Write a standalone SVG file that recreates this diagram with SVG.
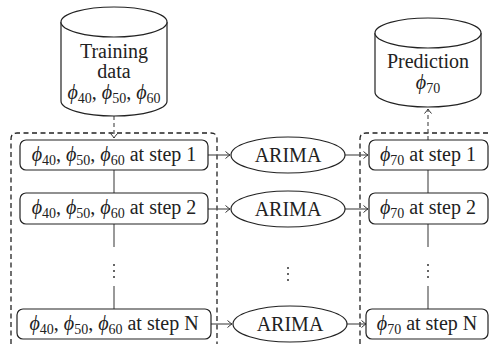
<svg xmlns="http://www.w3.org/2000/svg" width="489" height="344" viewBox="0 0 489 344" font-family="'Liberation Serif', serif">
<style>
text{font-family:'Liberation Serif','Times New Roman',serif;font-size:20px;fill:#222;text-anchor:middle}
.v{font-style:italic}
.s{font-size:14px}
.shape{fill:#fff;stroke:#222;stroke-width:1.2}
.line{fill:none;stroke:#555;stroke-width:1.2}
.dash{fill:none;stroke:#222;stroke-width:1.3;stroke-dasharray:5,3.5}
.ddash{fill:none;stroke:#555;stroke-width:1.2;stroke-dasharray:4,3}
.dots{fill:#333}
</style>
<defs>
<marker id="arr" markerWidth="10" markerHeight="10" refX="0" refY="0" viewBox="-6 -5 8 10" orient="auto" markerUnits="userSpaceOnUse">
<path d="M-4.5,-3.5 Q-1.5,-0.8 0,0 Q-1.5,0.8 -4.5,3.5" fill="none" stroke="#333" stroke-width="1"/>
</marker>
</defs>
<g id="groups">
<path class="dash" d="M11,344 V139 Q11,133 17,133 H211 Q217,133 217,139 V344"/>
<path class="dash" d="M360,344 V139 Q360,133 366,133 H489"/>
</g>
<g id="connectors">
<line class="ddash" x1="114" y1="116" x2="114" y2="138" marker-end="url(#arr)"/>
<line class="ddash" x1="428" y1="140" x2="428" y2="109" marker-end="url(#arr)"/>
<line class="line" x1="114" y1="170" x2="114" y2="193"/>
<line class="line" x1="114" y1="224" x2="114" y2="247"/>
<line class="line" x1="114" y1="286" x2="114" y2="309"/>
<line class="line" x1="428" y1="170" x2="428" y2="193"/>
<line class="line" x1="428" y1="224" x2="428" y2="247"/>
<line class="line" x1="428" y1="286" x2="428" y2="309"/>
<line class="line" x1="208" y1="155" x2="230" y2="155" marker-end="url(#arr)"/>
<line class="line" x1="345" y1="155" x2="368" y2="155" marker-end="url(#arr)"/>
<line class="line" x1="208" y1="209" x2="230" y2="209" marker-end="url(#arr)"/>
<line class="line" x1="345" y1="209" x2="368" y2="209" marker-end="url(#arr)"/>
<line class="line" x1="211" y1="324" x2="232" y2="324" marker-end="url(#arr)"/>
<line class="line" x1="347" y1="324" x2="366" y2="324" marker-end="url(#arr)"/>
</g>
<g id="training">
<path class="shape" d="M61,22 V101 A53,15 0 0 0 167,101 V22"/>
<ellipse class="shape" cx="114" cy="22" rx="53" ry="15"/>
<text x="114" y="58">Training</text>
<text x="114" y="78">data</text>
<text x="114" y="99"><tspan class="v">ϕ</tspan><tspan class="s" dy="4">40</tspan><tspan dy="-4">, </tspan><tspan class="v">ϕ</tspan><tspan class="s" dy="4">50</tspan><tspan dy="-4">, </tspan><tspan class="v">ϕ</tspan><tspan class="s" dy="4">60</tspan></text>
</g>
<g id="prediction">
<path class="shape" d="M375,33 V92 A53,15 0 0 0 481,92 V33"/>
<ellipse class="shape" cx="428" cy="33" rx="53" ry="15"/>
<text x="428" y="68">Prediction</text>
<text x="428" y="89"><tspan class="v">ϕ</tspan><tspan class="s" dy="4">70</tspan></text>
</g>
<g id="in1">
<rect class="shape" x="20" y="140" width="188" height="30" rx="6"/>
<text x="114" y="161"><tspan class="v">ϕ</tspan><tspan class="s" dy="4">40</tspan><tspan dy="-4">, </tspan><tspan class="v">ϕ</tspan><tspan class="s" dy="4">50</tspan><tspan dy="-4">, </tspan><tspan class="v">ϕ</tspan><tspan class="s" dy="4">60</tspan><tspan dy="-4"> at step 1</tspan></text>
</g>
<g id="in2">
<rect class="shape" x="20" y="193" width="188" height="31" rx="6"/>
<text x="114" y="214"><tspan class="v">ϕ</tspan><tspan class="s" dy="4">40</tspan><tspan dy="-4">, </tspan><tspan class="v">ϕ</tspan><tspan class="s" dy="4">50</tspan><tspan dy="-4">, </tspan><tspan class="v">ϕ</tspan><tspan class="s" dy="4">60</tspan><tspan dy="-4"> at step 2</tspan></text>
</g>
<g id="inN">
<rect class="shape" x="17" y="309" width="194" height="30" rx="6"/>
<text x="114" y="330"><tspan class="v">ϕ</tspan><tspan class="s" dy="4">40</tspan><tspan dy="-4">, </tspan><tspan class="v">ϕ</tspan><tspan class="s" dy="4">50</tspan><tspan dy="-4">, </tspan><tspan class="v">ϕ</tspan><tspan class="s" dy="4">60</tspan><tspan dy="-4"> at step N</tspan></text>
</g>
<g id="arima1">
<ellipse class="shape" cx="288" cy="155" rx="57" ry="18"/>
<text x="288" y="162">ARIMA</text>
</g>
<g id="arima2">
<ellipse class="shape" cx="288" cy="209" rx="57" ry="18"/>
<text x="288" y="216">ARIMA</text>
</g>
<g id="arimaN">
<ellipse class="shape" cx="290" cy="324" rx="57" ry="18"/>
<text x="290" y="331">ARIMA</text>
</g>
<g id="out1">
<rect class="shape" x="369" y="140" width="119" height="30" rx="6"/>
<text x="428" y="161"><tspan class="v">ϕ</tspan><tspan class="s" dy="4">70</tspan><tspan dy="-4"> at step 1</tspan></text>
</g>
<g id="out2">
<rect class="shape" x="369" y="193" width="119" height="31" rx="6"/>
<text x="428" y="214"><tspan class="v">ϕ</tspan><tspan class="s" dy="4">70</tspan><tspan dy="-4"> at step 2</tspan></text>
</g>
<g id="outN">
<rect class="shape" x="366" y="309" width="122" height="30" rx="6"/>
<text x="427" y="330"><tspan class="v">ϕ</tspan><tspan class="s" dy="4">70</tspan><tspan dy="-4"> at step N</tspan></text>
</g>
<g id="ellipses">
<circle class="dots" cx="114" cy="265" r="1"/><circle class="dots" cx="114" cy="271" r="1"/><circle class="dots" cx="114" cy="277" r="1"/>
<circle class="dots" cx="288" cy="268" r="1"/><circle class="dots" cx="288" cy="274" r="1"/><circle class="dots" cx="288" cy="280" r="1"/>
<circle class="dots" cx="428" cy="265" r="1"/><circle class="dots" cx="428" cy="271" r="1"/><circle class="dots" cx="428" cy="277" r="1"/>
</g>
</svg>
